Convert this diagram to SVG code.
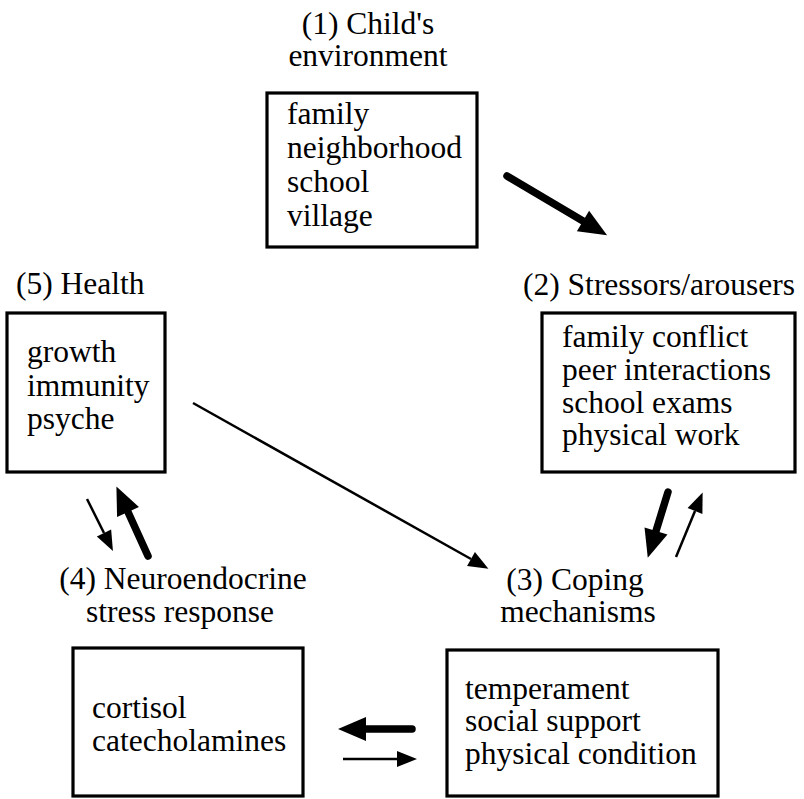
<svg xmlns="http://www.w3.org/2000/svg" width="804" height="799" viewBox="0 0 804 799">
  <style>
    text { font-family: "Liberation Serif", "Times New Roman", serif; font-size: 31.5px; fill: #000; }
    .box { fill: #fff; stroke: #000; stroke-width: 3.2; }
    .mid { text-anchor: middle; }
    .thick { stroke: #000; stroke-width: 7.5; stroke-linecap: round; fill: none; }
    .thin { stroke: #000; stroke-width: 2.5; fill: none; }
  </style>
  <defs>
    <marker id="headBig" markerUnits="userSpaceOnUse" markerWidth="30" markerHeight="26" refX="0" refY="13" orient="auto" overflow="visible">
      <path d="M0,1 L28,13 L0,25 Z" fill="#000"/>
    </marker>
    <marker id="headSmall" markerUnits="userSpaceOnUse" markerWidth="22" markerHeight="18" refX="0" refY="9" orient="auto" overflow="visible">
      <path d="M0,1 L20,9 L0,17 Z" fill="#000"/>
    </marker>
  </defs>

  <rect width="804" height="799" fill="#fff"/>

  <!-- (1) Child's environment -->
  <g id="node-environment">
    <text class="mid" x="368" y="34">(1) Child's</text>
    <text class="mid" x="368" y="66">environment</text>
    <rect class="box" x="267" y="93" width="210" height="154"/>
    <text x="287" y="124">family</text>
    <text x="287" y="158">neighborhood</text>
    <text x="287" y="192">school</text>
    <text x="287" y="226">village</text>
  </g>

  <!-- (2) Stressors/arousers -->
  <g id="node-stressors">
    <text x="523" y="295">(2) Stressors/arousers</text>
    <rect class="box" x="542" y="313" width="253" height="159"/>
    <text x="562" y="347">family conflict</text>
    <text x="562" y="380">peer interactions</text>
    <text x="562" y="413">school exams</text>
    <text x="562" y="445">physical work</text>
  </g>

  <!-- (5) Health -->
  <g id="node-health">
    <text x="16" y="294">(5) Health</text>
    <rect class="box" x="7" y="313" width="158" height="159"/>
    <text x="27" y="362">growth</text>
    <text x="27" y="396">immunity</text>
    <text x="27" y="429">psyche</text>
  </g>

  <!-- (4) Neuroendocrine stress response -->
  <g id="node-neuroendocrine">
    <text class="mid" x="183" y="589">(4) Neuroendocrine</text>
    <text class="mid" x="180" y="622">stress response</text>
    <rect class="box" x="73" y="648" width="230" height="148"/>
    <text x="92" y="718">cortisol</text>
    <text x="92" y="751">catecholamines</text>
  </g>

  <!-- (3) Coping mechanisms -->
  <g id="node-coping">
    <text class="mid" x="575" y="590">(3) Coping</text>
    <text class="mid" x="578" y="622">mechanisms</text>
    <rect class="box" x="447" y="650" width="271" height="146"/>
    <text x="465" y="699">temperament</text>
    <text x="465" y="731">social support</text>
    <text x="465" y="764">physical condition</text>
  </g>

  <!-- connectors -->
  <g id="connectors">
    <line class="thick" x1="507" y1="176" x2="583" y2="221" marker-end="url(#headBig)"/>
    <line class="thin" x1="193" y1="403" x2="471" y2="559" marker-end="url(#headSmall)"/>
    <line class="thin" x1="87" y1="499" x2="104" y2="533" marker-end="url(#headSmall)"/>
    <line class="thick" x1="148" y1="556" x2="128" y2="512" marker-end="url(#headBig)"/>
    <line class="thick" x1="668" y1="492" x2="656" y2="531" marker-end="url(#headBig)"/>
    <line class="thin" x1="676" y1="557" x2="695" y2="511" marker-end="url(#headSmall)"/>
    <line class="thick" x1="412" y1="729" x2="366" y2="729" marker-end="url(#headBig)"/>
    <line class="thin" x1="343" y1="759" x2="397" y2="759" marker-end="url(#headSmall)"/>
  </g>
</svg>
